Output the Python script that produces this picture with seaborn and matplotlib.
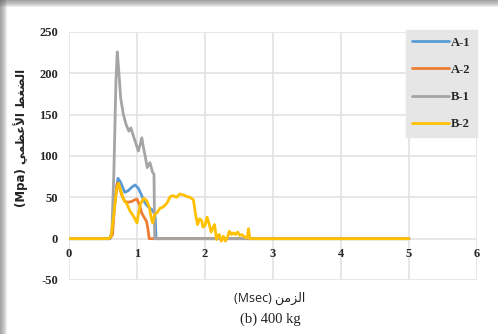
import numpy as np
import pandas as pd
import matplotlib
matplotlib.use("Agg")
import matplotlib.pyplot as plt
import matplotlib.patches as mpatches
import seaborn as sns

# ---- data ----
a1_x = [0, 0.60, 0.63, 0.67, 0.72, 0.76, 0.82, 0.87, 0.92, 0.97, 1.02, 1.07, 1.12, 1.17, 1.22, 1.26, 1.27, 1.28, 5]
a1_y = [0, 0, 5, 45, 73, 68, 56, 58, 62, 65, 61, 52, 43, 38, 35, 30, 23, 0, 0]

a2_x = [0, 0.60, 0.64, 0.67, 0.71, 0.74, 0.78, 0.82, 0.87, 0.92, 0.97, 1.00, 1.04, 1.07, 1.11, 1.14, 1.16, 1.18, 5]
a2_y = [0, 0, 5, 40, 67, 62, 52, 45, 44, 45, 47, 48, 40, 31, 25, 21, 12, 0, 0]

b1_x = [0, 0.60, 0.63, 0.66, 0.69, 0.71, 0.73, 0.76, 0.80, 0.84, 0.88, 0.91, 0.94, 0.98, 1.02,
        1.05, 1.07, 1.10, 1.12, 1.15, 1.19, 1.23, 1.25, 1.26, 5]
b1_y = [0, 0, 8, 80, 190, 226, 205, 170, 150, 138, 130, 134, 126, 116, 106,
        115, 122, 108, 100, 86, 92, 80, 78, 0, 0]

b2_x = [0, 0.58, 0.62, 0.66, 0.70, 0.73, 0.76, 0.80, 0.85, 0.90, 0.95, 1.00, 1.02, 1.05, 1.10,
        1.14, 1.18, 1.21, 1.23, 1.26, 1.30, 1.34, 1.38, 1.44, 1.49, 1.53, 1.58, 1.63, 1.68,
        1.73, 1.78, 1.83, 1.86, 1.89, 1.92, 1.95, 1.97, 2.00, 2.03, 2.06, 2.09, 2.11, 2.14,
        2.17, 2.19, 2.21, 2.24, 2.27, 2.30, 2.33, 2.36, 2.39, 2.42, 2.45, 2.48, 2.51, 2.54,
        2.57, 2.60, 2.62, 2.64, 2.66, 5]
b2_y = [0, 0, 3, 30, 60, 67, 58, 48, 42, 33, 27, 19, 30, 42, 49,
        46, 38, 25, 19, 29, 32, 37, 38, 43, 51, 52, 50, 54, 53,
        51, 50, 47, 30, 17, 24, 22, 14, 16, 26, 18, 8, 12, 17,
        -1, 4, 5, -3, 3, -3, 2, 9, 5, 7, 5, 8, 4, 5,
        3, 1, 1, 12, 0, 0]

series_names = ["A-1", "A-2", "B-1", "B-2"]
series_colors = ["#5B9BD5", "#ED7D31", "#A5A5A5", "#FFC000"]
x_ticks = [0, 1, 2, 3, 4, 5, 6]
y_ticks = [-50, 0, 50, 100, 150, 200, 250]

# Arabic text in visual (left-to-right) order using presentation forms
x_label = "(Msec) " + "\uFEE6\uFEE3\uFEB0\uFEDF\uFE8D"
y_label = "(Mpa) " + "\uFEF2\uFEE4\uFEC8\uFECB\uFEF7\uFE8D \uFEC2\uFED0\uFEC0\uFEDF\uFE8D"
caption = "(b) 400 kg"

frames = []
for name, xs, ys in zip(series_names, [a1_x, a2_x, b1_x, b2_x], [a1_y, a2_y, b1_y, b2_y]):
    frames.append(pd.DataFrame({"t": xs, "p": ys, "s": name}))
df = pd.concat(frames, ignore_index=True)

sns.set_theme(style="white")
W, H = 498, 334
fig = plt.figure(figsize=(W / 100, H / 100), dpi=100)
fig.patch.set_facecolor("white")

# shadow border
for i in range(7):
    a = 0.11
    fig.patches.append(mpatches.Rectangle((0, 1 - (7 - i) / H), 1, (7 - i) / H, transform=fig.transFigure,
                                          facecolor="#606060", alpha=a, edgecolor="none", zorder=0))
    fig.patches.append(mpatches.Rectangle((0, 0), (7 - i) / W, 1, transform=fig.transFigure,
                                          facecolor="#606060", alpha=a, edgecolor="none", zorder=0))

ax = fig.add_axes([69 / W, 1 - 280 / H, 408 / W, 248 / H])
ax.set_facecolor("none")

sns.lineplot(data=df, x="t", y="p", hue="s", hue_order=series_names,
             palette=dict(zip(series_names, series_colors)), sort=False,
             estimator=None, units="s", linewidth=2.0, ax=ax, legend=False)

ax.set_xlim(0, 6)
ax.set_ylim(-50, 250)
ax.set_xticks(x_ticks)
ax.set_yticks(y_ticks)
ax.set_xticklabels([str(v) for v in x_ticks])
ax.set_yticklabels([str(v) for v in y_ticks])
ax.grid(True, color="#e3e3e3", linewidth=1.2)
ax.set_axisbelow(True)
for sp in ax.spines.values():
    sp.set_visible(False)
ax.spines["bottom"].set_position(("data", 0))
ax.tick_params(axis="both", length=0)
ax.tick_params(axis="x", pad=7)
ax.tick_params(axis="y", pad=8)
for lab in ax.get_xticklabels() + ax.get_yticklabels():
    lab.set_fontfamily("Liberation Serif")
    lab.set_fontweight("bold")
    lab.set_fontsize(9)
    lab.set_color("#262626")
ax.set_xlabel("")
ax.set_ylabel("")

# legend
handles = [plt.Line2D([], [], color=c, linewidth=2.0) for c in series_colors]
leg = ax.legend(handles, series_names, loc="upper right", bbox_to_anchor=(1.0, 1.008),
                frameon=True, fancybox=False, borderaxespad=0, labelspacing=1.22,
                handlelength=2.9, handletextpad=0.2, borderpad=0.52,
                prop={"family": "Liberation Serif", "weight": "bold", "size": 9})
leg.get_frame().set_facecolor("#e6e6e6")
leg.get_frame().set_edgecolor("#e6e6e6")
leg.get_frame().set_alpha(1)
for t in leg.get_texts():
    t.set_color("#262626")

fig.text(270 / W, 1 - 298 / H, x_label, ha="center", va="center", fontsize=9,
         family=["Open Sans", "DejaVu Sans"], color="#222222")
fig.text(270 / W, 1 - 319 / H, caption, ha="center", va="center", fontsize=10.5,
         family="Liberation Serif", color="#222222")
fig.text(21 / W, 1 - 138 / H, y_label, ha="center", va="center", rotation=90, fontsize=8.5,
         family=["DejaVu Sans"], weight="bold", color="#222222")

fig.savefig("out.png", dpi=100)
